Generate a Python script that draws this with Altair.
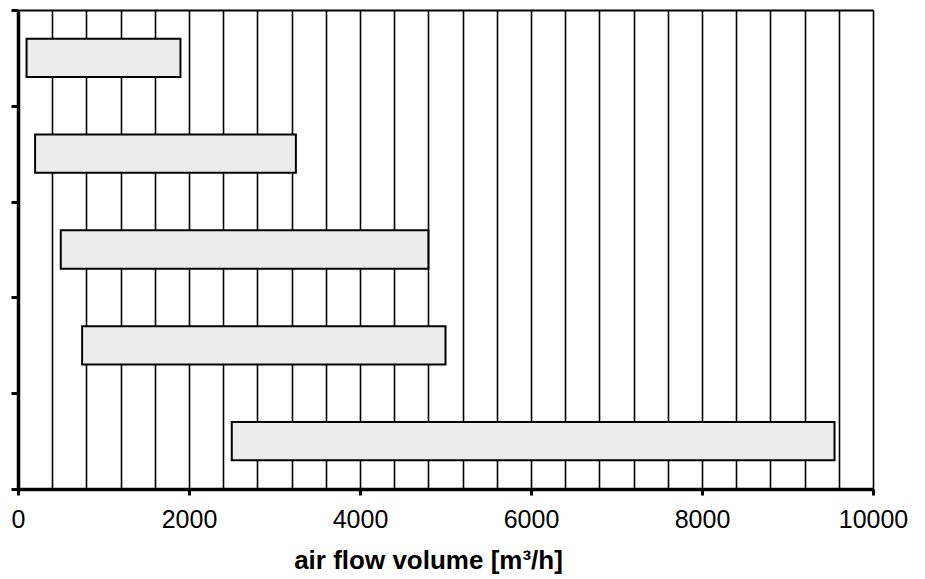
import altair as alt
import pandas as pd

# data
row = [1, 2, 3, 4, 5]  # top to bottom
flow_min = [100, 200, 500, 750, 2500]
flow_max = [1900, 3250, 4800, 5000, 9550]

label_ticks = [0, 2000, 4000, 6000, 8000, 10000]
grid_ticks = [0, 400, 800, 1200, 1600, 2000, 2400, 2800, 3200, 3600, 4000,
              4400, 4800, 5200, 5600, 6000, 6400, 6800, 7200, 7600, 8000,
              8400, 8800, 9200, 9600, 10000]
row_ticks = [0, 1, 2, 3, 4, 5]

df = pd.DataFrame({"row": row, "lo": flow_min, "hi": flow_max})

FONT = "Liberation Sans"
xscale = alt.Scale(domain=[0, 10000], nice=False, zero=False)
yscale = alt.Scale(domain=[0, 5], reverse=True, nice=False, zero=False)

base = alt.Chart(df).transform_calculate(
    y0="datum.row - 0.7", y1="datum.row - 0.3"
)

grid_layer = base.mark_bar(opacity=0).encode(
    x=alt.X("lo:Q", scale=xscale, axis=alt.Axis(
        orient="top", values=grid_ticks, grid=True, gridColor="black",
        gridWidth=1.6, gridOpacity=1, labels=False, ticks=False,
        domain=True, domainColor="black", domainWidth=2, title=None)),
    x2="hi:Q",
    y=alt.Y("y0:Q", scale=yscale, axis=None),
    y2="y1:Q",
)

bars = base.mark_bar(fill="#ececec", stroke="black", strokeWidth=2).encode(
    x=alt.X("lo:Q", scale=xscale, axis=alt.Axis(
        orient="bottom", values=label_ticks, grid=False, format="d",
        ticks=True, tickSize=6, tickWidth=3, tickColor="black",
        domain=True, domainColor="black", domainWidth=3.5,
        labelFont=FONT, labelFontSize=25, labelColor="black",
        labelPadding=12, labelFlush=False,
        title="air flow volume [m³/h]", titleFont=FONT, titleFontSize=26,
        titleFontWeight="bold", titleColor="black", titlePadding=15,
        titleX=410, titleAlign="center")),
    x2="hi:Q",
    y=alt.Y("y0:Q", scale=yscale, axis=alt.Axis(
        values=row_ticks, labels=False, title=None, grid=False,
        ticks=True, tickSize=7, tickWidth=3, tickColor="black",
        domain=True, domainColor="black", domainWidth=3.5)),
    y2="y1:Q",
)

chart = alt.layer(grid_layer, bars).resolve_axis(
    x="independent", y="independent"
).properties(
    width=855, height=479,
    padding={"left": 1, "top": 0, "right": 5, "bottom": 2},
).configure_view(stroke=None)

chart.save("out.html", embed_options={"renderer": "svg", "actions": False})
